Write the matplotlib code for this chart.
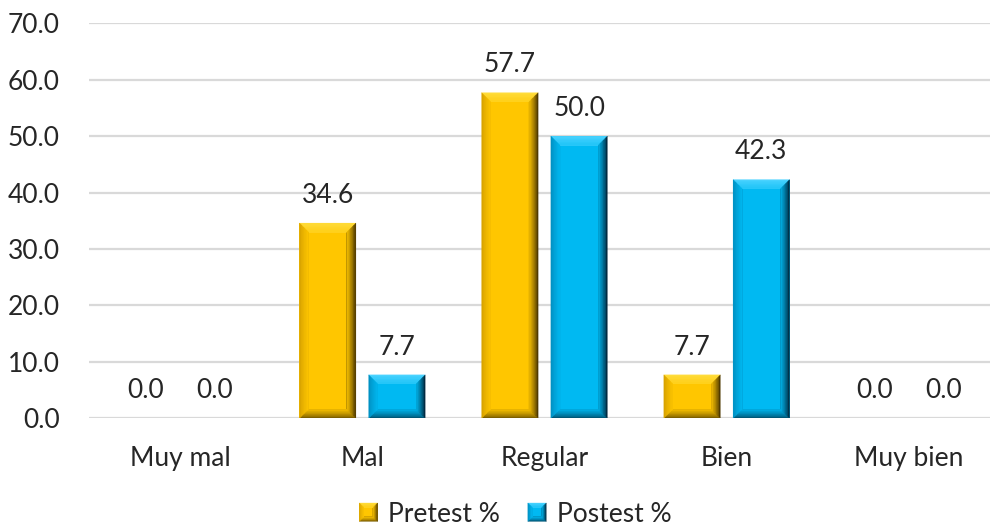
import matplotlib
matplotlib.use("Agg")
import matplotlib.pyplot as plt
from matplotlib.patches import Polygon
from matplotlib.colors import to_rgb
from matplotlib.legend_handler import HandlerBase
import numpy as np

categories = ["Muy mal", "Mal", "Regular", "Bien", "Muy bien"]
pretest = [0.0, 34.6, 57.7, 7.7, 0.0]
postest = [0.0, 7.7, 50.0, 42.3, 0.0]
series_names = ["Pretest %", "Postest %"]
yticks = [0, 10, 20, 30, 40, 50, 60, 70]

# colour sets: flat face plus the outer colour of each bevelled edge
GOLD = dict(face="#FFC600", top="#FFDC3A", left="#D9A400", right="#4F3A00", bottom="#7E6000")
BLUE = dict(face="#00B9F2", top="#4AD3FF", left="#0092C4", right="#002B42", bottom="#005878")

FONT = "Lato"
FS = 19
TXT = "#262626"
GRID = "#D9D9D9"

W, H, DPI = 990, 528, 100
fig = plt.figure(figsize=(W / DPI, H / DPI), dpi=DPI)
ax_left, ax_right = 89, 1000
ax_bottom, ax_top = 418.3, 23.3
ax = fig.add_axes([ax_left / W, (H - ax_bottom) / H,
                   (ax_right - ax_left) / W, (ax_bottom - ax_top) / H])
ax.set_xlim(-0.5, len(categories) - 0.5)
ax.set_ylim(0, 70)

# pixel -> data scale, used for the bevel size
sx = (ax_right - ax_left) / len(categories)
sy = (ax_bottom - ax_top) / 70.0
BEVEL = 9.0
STEPS = 6


def mix(c1, c2, t):
    a, b = np.array(to_rgb(c1)), np.array(to_rgb(c2))
    return tuple(a + (b - a) * t)


def side_polys(x0, y0, x1, y1, ix0, iy0, ix1, iy1):
    return {
        "top": [(x0, y1), (x1, y1), (ix1, iy1), (ix0, iy1)],
        "bottom": [(x0, y0), (x1, y0), (ix1, iy0), (ix0, iy0)],
        "left": [(x0, y0), (ix0, iy0), (ix0, iy1), (x0, y1)],
        "right": [(x1, y0), (x1, y1), (ix1, iy1), (ix1, iy0)],
    }


def draw_bevel(axes, x0, y0, w, h, bx, by, cols, transform=None, zorder=3):
    """Bevelled block: flat face framed by four shaded, graded edges."""
    arts = []
    x1, y1 = x0 + w, y0 + h
    bx = min(bx, w / 2)
    by = min(by, h / 2)
    face = Polygon([(x0, y0), (x1, y0), (x1, y1), (x0, y1)], closed=True,
                   facecolor=cols["face"], linewidth=0, zorder=zorder)
    arts.append(face)
    for i in range(STEPS):
        f0 = i / STEPS
        ox0, oy0, ox1, oy1 = x0 + bx * f0, y0 + by * f0, x1 - bx * f0, y1 - by * f0
        polys = side_polys(ox0, oy0, ox1, oy1, x0 + bx, y0 + by, x1 - bx, y1 - by)
        t = (i / STEPS) ** 0.8
        for key in ["top", "bottom", "left", "right"]:
            c = mix(cols[key], cols["face"], t)
            if key == "top":
                c = mix(cols[key], cols["face"], t * 0.6)
            p = Polygon(polys[key], closed=True, facecolor=c, edgecolor=c,
                        linewidth=0.2, zorder=zorder)
            arts.append(p)
    for p in arts:
        if transform is not None:
            p.set_transform(transform)
        if axes is not None:
            axes.add_patch(p)
    return arts


x = np.arange(len(categories))
width = 0.31
offset = 0.19

for vals, off, cols in [(pretest, -offset, GOLD), (postest, offset, BLUE)]:
    bars = ax.bar(x + off, vals, width, color=cols["face"], linewidth=0, zorder=2)
    for rect, v in zip(bars, vals):
        if v > 0:
            draw_bevel(ax, rect.get_x(), 0, rect.get_width(), v,
                       BEVEL / sx, BEVEL / sy, cols)
        ax.annotate(f"{v:.1f}", (rect.get_x() + rect.get_width() / 2, v),
                    xytext=(0, 11), textcoords="offset points",
                    ha="center", va="bottom", fontsize=FS, color=TXT,
                    family=FONT, zorder=4)

ax.set_yticks(yticks)
ax.set_yticklabels([f"{t:.1f}" for t in yticks])
ax.set_xticks(x)
ax.set_xticklabels(categories)
ax.grid(axis="y", color=GRID, linewidth=1.6, zorder=0)
ax.set_axisbelow(True)
for s in ax.spines.values():
    s.set_visible(False)
ax.tick_params(axis="both", length=0, labelsize=FS, labelcolor=TXT)
ax.tick_params(axis="y", pad=21)
ax.tick_params(axis="x", pad=20)
for lbl in ax.get_xticklabels() + ax.get_yticklabels():
    lbl.set_family(FONT)


class BevelHandler(HandlerBase):
    def __init__(self, cols):
        super().__init__()
        self.cols = cols

    def create_artists(self, legend, orig_handle, xdescent, ydescent,
                       width, height, fontsize, trans):
        s = height * 1.1
        x0 = -xdescent + (width - s) / 2
        y0 = -ydescent + (height - s) / 2
        b = s * 0.25
        return draw_bevel(None, x0, y0, s, s, b, b, self.cols, transform=trans)


h1 = plt.Rectangle((0, 0), 1, 1, color=GOLD["face"])
h2 = plt.Rectangle((0, 0), 1, 1, color=BLUE["face"])
fig.legend([h1, h2], series_names, loc="center",
           bbox_to_anchor=(516 / W, 1 - 514 / H), ncol=2, frameon=False,
           handler_map={h1: BevelHandler(GOLD), h2: BevelHandler(BLUE)},
           handlelength=0.6, handleheight=0.6, handletextpad=0.45,
           columnspacing=1.1, prop={"family": FONT, "size": FS}, labelcolor=TXT)

fig.savefig("out.png", dpi=DPI)
